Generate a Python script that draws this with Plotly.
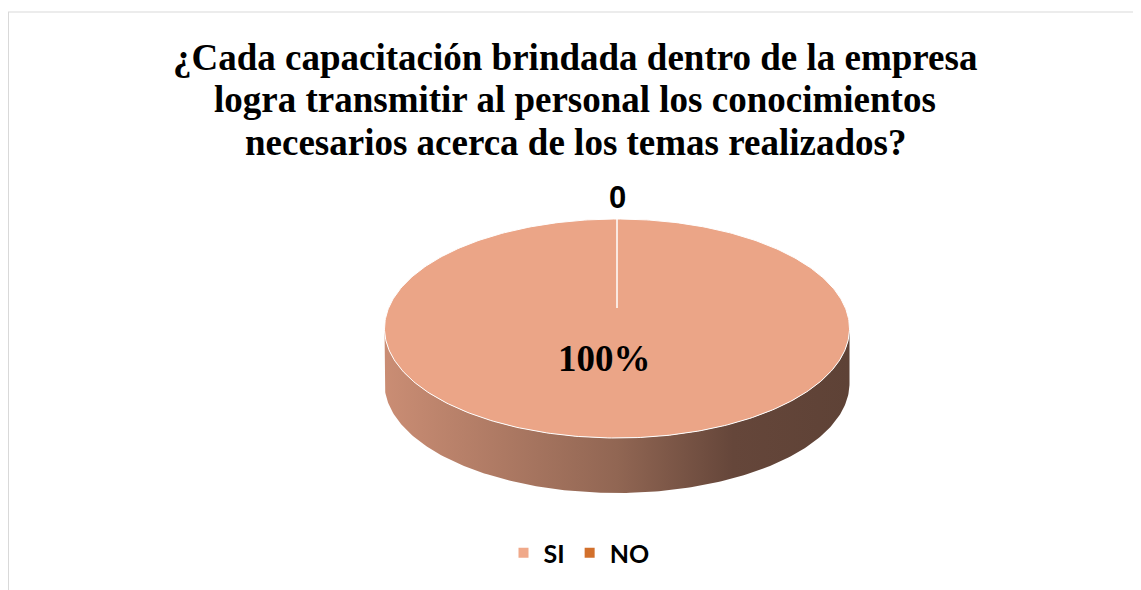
import numpy as np
import plotly.graph_objects as go

# datos de la encuesta
categorias = ["SI", "NO"]
valores = [100, 0]
colores_leyenda = ["#F0A98A", "#D2702C"]
colores_cara = ["#EBA587", "#D2702C"]

titulo = ["¿Cada capacitación brindada dentro de la empresa",
          "logra transmitir al personal los conocimientos",
          "necesarios acerca de los temas realizados?"]

# lienzo; la pagina deja 8px de margen en el body, se compensa aqui
W, H = 1141, 590
OFF = 8

# geometria del pastel 3D (en pixeles de pantalla)
cx, cy = 617, 328.5       # centro de la elipse superior
rx, ry = 232.5, 109.5
centro_y = 308            # centro del pastel (perspectiva)
grosor = 55


def punto(f):
    # f = fraccion de vuelta desde las 12, sentido horario
    a = np.pi / 2 - 2 * np.pi * np.asarray(f)
    return cx + rx * np.cos(a), cy - ry * np.sin(a)


def oscurecer(hexcol, k):
    r, g, b = (int(hexcol[i:i + 2], 16) for i in (1, 3, 5))
    return "rgb(%d,%d,%d)" % (r * k, g * k, b * k)


total = sum(valores)
fracs = [v / total for v in valores]
inicios = np.concatenate([[0], np.cumsum(fracs)[:-1]])

fig = go.Figure()

# lateral (solo la mitad frontal es visible)
for ini, fr, col in zip(inicios, fracs, colores_cara):
    a0, a1 = max(ini, 0.25), min(ini + fr, 0.75)
    if a1 <= a0:
        continue
    f = np.linspace(a0, a1, 200)
    x, y = punto(f)
    xs = np.concatenate([x, x[::-1], [x[0]]])
    ys = np.concatenate([y, y[::-1] + grosor, [y[0]]])
    fig.add_trace(go.Scatter(
        x=xs, y=ys, mode="lines", fill="toself",
        line=dict(width=0), showlegend=False, hoverinfo="skip",
        fillgradient=dict(type="horizontal", colorscale=[
            [0, oscurecer(col, 0.86)], [0.5, oscurecer(col, 0.62)],
            [0.75, oscurecer(col, 0.43)], [1, oscurecer(col, 0.40)]]),
    ))

# cara superior, una porcion por categoria
for ini, fr, col in zip(inicios, fracs, colores_cara):
    if fr <= 0:
        continue
    f = np.linspace(ini, ini + fr, 400)
    x, y = punto(f)
    xs = np.concatenate([[cx], x, [cx]])
    ys = np.concatenate([[centro_y], y, [centro_y]])
    fig.add_trace(go.Scatter(
        x=xs, y=ys, mode="lines", fill="toself", fillcolor=col,
        line=dict(color="white", width=1), showlegend=False, hoverinfo="skip",
    ))

# etiquetas de datos
for ini, fr, v in zip(inicios, fracs, valores):
    medio = ini + fr / 2
    if fr > 0:
        a = np.pi / 2 - 2 * np.pi * medio
        tx = cx + 0.5 * rx * np.cos(a)
        ty = centro_y - 0.5 * ry * np.sin(a)
        fig.add_annotation(x=tx, y=ty - 4, xshift=-13, text="<b>%d%%</b>" % round(fr * 100),
                           showarrow=False,
                           font=dict(family="Liberation Serif", size=37, color="black"))
    else:
        tx, ty = punto(medio)
        fig.add_annotation(x=tx, y=ty - 22, text="<b>%d</b>" % v, showarrow=False,
                           font=dict(family="Liberation Sans", size=31, color="black"))

# titulo, una linea por anotacion
for i, linea in enumerate(titulo):
    fig.add_annotation(x=575, y=57 + 42.5 * i, text="<b>%s</b>" % linea, showarrow=False,
                       font=dict(family="Liberation Serif", size=37, color="black"))

# leyenda
for cat, col in zip(categorias, colores_leyenda):
    fig.add_trace(go.Scatter(
        x=[None], y=[None], mode="markers", name=cat,
        marker=dict(symbol="square", size=10, color=col),
    ))

fig.update_layout(
    width=W - OFF, height=H - OFF,
    margin=dict(l=0, r=0, t=0, b=0),
    paper_bgcolor="white", plot_bgcolor="white",
    xaxis=dict(range=[OFF, W], visible=False, fixedrange=True),
    yaxis=dict(range=[H, OFF], visible=False, fixedrange=True),
    legend=dict(orientation="h", x=(579 - OFF) / (W - OFF), xanchor="center",
                y=(H - 553) / (H - OFF), yanchor="middle",
                font=dict(family="Lato", size=25, color="black", weight="bold")),
    shapes=[dict(type="line", xref="x", yref="y", x0=OFF, x1=W, y0=12, y1=12,
                 line=dict(color="#D9D9D9", width=1)),
            dict(type="line", xref="x", yref="y", x0=OFF + 0.5, x1=OFF + 0.5, y0=12, y1=H,
                 line=dict(color="#D9D9D9", width=1))],
)

fig.write_html("out.html")
